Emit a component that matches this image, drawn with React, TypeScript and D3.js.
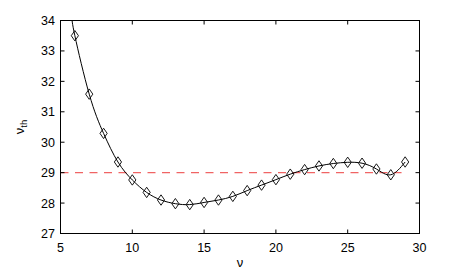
import React, { useEffect, useRef } from 'react';
import * as d3 from 'd3';

// marker positions
const nu = [6, 7, 8, 9, 10, 11, 12, 13, 14, 15, 16, 17, 18, 19, 20, 21, 22, 23, 24, 25, 26, 27, 28, 29];
const nuTh = [33.5, 31.58, 30.29, 29.35, 28.76, 28.35, 28.1, 27.98, 27.95, 28.02, 28.1, 28.22, 28.41, 28.59, 28.77, 28.95, 29.1, 29.22, 29.3, 29.34, 29.31, 29.12, 28.93, 29.35];
// the fitted curve starts a bit left of the first marker (clipped at the top)
const curveHead = [{ x: 5.8, y: 34.1 }];
const threshold = 29;
const thresholdSpan = [5, 28.75];
const xTicks = [5, 10, 15, 20, 25, 30];
const yTicks = [27, 28, 29, 30, 31, 32, 33, 34];

export default function App() {
  const svgRef = useRef<SVGSVGElement>(null);

  useEffect(() => {
    if (!svgRef.current) return;
    const width = 463;
    const height = 273;
    const left = 60.5, right = 419.5, top = 20.5, bottom = 233.5;

    d3.select(svgRef.current).selectAll('*').remove();
    const svg = d3.select(svgRef.current)
      .attr('width', width)
      .attr('height', height)
      .style('font-family', '"Liberation Sans", Arial, sans-serif');

    const x = d3.scaleLinear().domain([5, 30]).range([left, right]);
    const y = d3.scaleLinear().domain([27, 34]).range([bottom, top]);

    svg.append('rect').attr('width', width).attr('height', height).attr('fill', '#fff');

    svg.append('defs').append('clipPath').attr('id', 'plot-clip')
      .append('rect')
      .attr('x', left).attr('y', top)
      .attr('width', right - left).attr('height', bottom - top);

    const plot = svg.append('g').attr('clip-path', 'url(#plot-clip)');

    // dashed threshold
    plot.append('line')
      .attr('x1', x(thresholdSpan[0])).attr('x2', x(thresholdSpan[1]))
      .attr('y1', y(threshold)).attr('y2', y(threshold))
      .attr('stroke', '#f06464')
      .attr('stroke-width', 1.3)
      .attr('stroke-dasharray', '8,6.5');

    const pts = nu.map((v, i) => ({ x: v, y: nuTh[i] }));
    const line = d3.line<{ x: number; y: number }>()
      .x(d => x(d.x))
      .y(d => y(d.y))
      .curve(d3.curveNatural);

    plot.append('path')
      .attr('d', line([...curveHead, ...pts]))
      .attr('fill', 'none')
      .attr('stroke', '#000')
      .attr('stroke-width', 1);

    // diamonds
    plot.selectAll('path.mk')
      .data(pts)
      .enter()
      .append('path')
      .attr('class', 'mk')
      .attr('d', d => {
        const cx = x(d.x), cy = y(d.y);
        return `M${cx},${cy - 5.2}L${cx + 3.6},${cy}L${cx},${cy + 5.2}L${cx - 3.6},${cy}Z`;
      })
      .attr('fill', 'none')
      .attr('stroke', '#000')
      .attr('stroke-width', 0.9);

    // box + inward ticks on all sides
    const axes = svg.append('g').attr('stroke', '#000').attr('stroke-width', 1);
    axes.append('rect')
      .attr('x', left).attr('y', top)
      .attr('width', right - left).attr('height', bottom - top)
      .attr('fill', 'none');

    const tl = 4;
    xTicks.slice(1, -1).forEach(t => {
      axes.append('line').attr('x1', x(t)).attr('x2', x(t)).attr('y1', bottom).attr('y2', bottom - tl);
      axes.append('line').attr('x1', x(t)).attr('x2', x(t)).attr('y1', top).attr('y2', top + tl);
    });
    yTicks.slice(1, -1).forEach(t => {
      axes.append('line').attr('y1', y(t)).attr('y2', y(t)).attr('x1', left).attr('x2', left + tl);
      axes.append('line').attr('y1', y(t)).attr('y2', y(t)).attr('x1', right).attr('x2', right - tl);
    });

    svg.selectAll('text.xt')
      .data(xTicks)
      .enter()
      .append('text')
      .attr('class', 'xt')
      .attr('x', d => x(d))
      .attr('y', 251.5)
      .attr('text-anchor', 'middle')
      .style('font-size', '12.5px')
      .text(d => d);

    svg.selectAll('text.yt')
      .data(yTicks)
      .enter()
      .append('text')
      .attr('class', 'yt')
      .attr('x', 55)
      .attr('y', d => y(d))
      .attr('dy', '0.36em')
      .attr('text-anchor', 'end')
      .style('font-size', '12.5px')
      .text(d => d);

    svg.append('text')
      .attr('x', (left + right) / 2)
      .attr('y', 266.5)
      .attr('text-anchor', 'middle')
      .style('font-size', '13px')
      .text('ν');

    const yl = svg.append('text')
      .attr('transform', `translate(23.5,${(top + bottom) / 2}) rotate(-90)`)
      .attr('text-anchor', 'middle')
      .style('font-size', '13px');
    yl.append('tspan').text('ν');
    yl.append('tspan').attr('dy', 3.5).style('font-size', '9.5px').text('th');
  }, []);

  return (
    <div style={{ position: 'absolute', left: 0, top: 0 }}>
      <svg ref={svgRef}></svg>
    </div>
  );
}
